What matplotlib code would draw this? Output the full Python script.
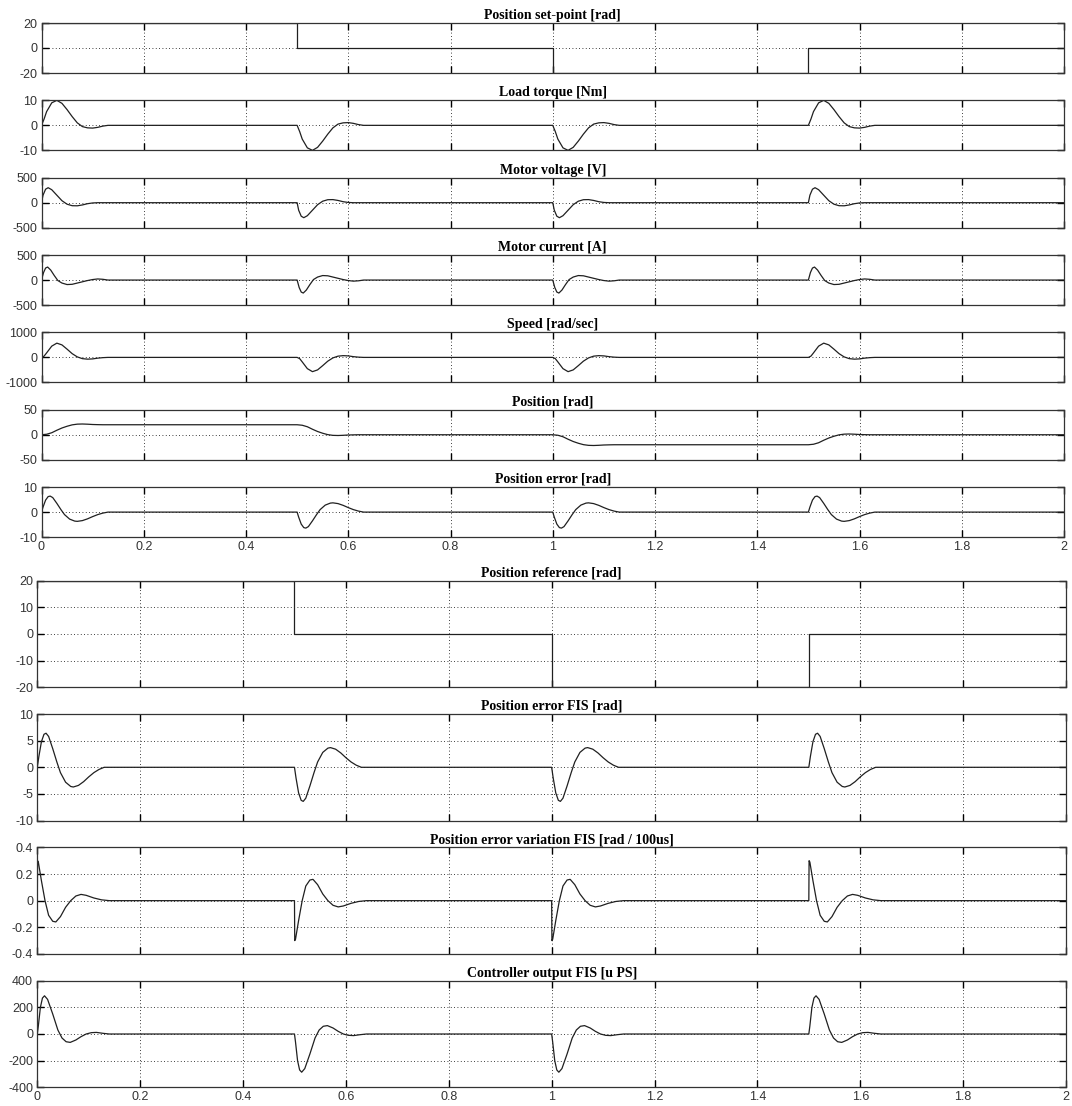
import numpy as np
import matplotlib.pyplot as plt
from matplotlib.ticker import FuncFormatter

plt.rcParams['axes.unicode_minus'] = False
plt.rcParams['font.family'] = 'Liberation Sans'

# set-point levels (rad), changing every 0.5 s
step_t = [0.0, 0.5, 1.0, 1.5, 2.0]
step_level = [20, 0, -20, 0, 0]

# step events and the direction of each step
event_t = [0.0, 0.5, 1.0, 1.5]
event_sign = [1, -1, -1, 1]

# response to one step (time after the step, value)
torque_dt = [0, 0.005, 0.01, 0.02, 0.03, 0.04, 0.05, 0.06, 0.07, 0.08, 0.09, 0.10, 0.11, 0.12, 0.13]
torque_val = [0, 2.5, 5.5, 9, 10, 8.8, 6.3, 3.5, 1.0, -0.5, -1.0, -1.1, -0.8, -0.3, 0]

volt_dt = [0, 0.003, 0.008, 0.013, 0.02, 0.03, 0.04, 0.05, 0.06, 0.07, 0.08, 0.09, 0.10, 0.11]
volt_val = [0, 150, 270, 300, 260, 150, 40, -30, -60, -62, -45, -20, -5, 0]

curr_dt = [0, 0.004, 0.008, 0.012, 0.018, 0.025, 0.032, 0.04, 0.05, 0.06, 0.07, 0.08, 0.09, 0.10, 0.11, 0.12, 0.13]
curr_val = [0, 150, 240, 260, 200, 90, -10, -60, -90, -85, -60, -35, -10, 10, 22, 15, 0]

speed_dt = [0, 0.005, 0.01, 0.02, 0.03, 0.04, 0.05, 0.06, 0.07, 0.08, 0.09, 0.10, 0.11, 0.12, 0.13]
speed_val = [0, 50, 180, 450, 570, 500, 330, 150, 20, -50, -70, -60, -30, -10, 0]

pos_dt = [0, 0.01, 0.02, 0.03, 0.04, 0.05, 0.06, 0.07, 0.08, 0.09, 0.10, 0.11, 0.12]
pos_val = [0, 1, 4, 9, 13.5, 17, 19.8, 21.2, 21.5, 21.1, 20.5, 20.2, 20]

err_dt = [0, 0.003, 0.008, 0.013, 0.017, 0.022, 0.03, 0.038, 0.045, 0.055, 0.065, 0.07, 0.08, 0.09, 0.10, 0.11, 0.12, 0.13]
err_val = [0, 2, 4.8, 6.2, 6.4, 5.8, 3.5, 1, -1, -2.8, -3.6, -3.7, -3.4, -2.7, -1.8, -1.0, -0.4, 0]

derr_dt = [0, 0.0005, 0.002, 0.008, 0.015, 0.022, 0.03, 0.036, 0.045, 0.055, 0.065, 0.075, 0.085, 0.095, 0.11, 0.125, 0.14]
derr_val = [0, 0.3, 0.29, 0.15, 0.0, -0.11, -0.155, -0.16, -0.12, -0.05, 0.0, 0.035, 0.047, 0.04, 0.02, 0.006, 0]

ctrl_dt = [0, 0.002, 0.006, 0.01, 0.014, 0.02, 0.03, 0.04, 0.048, 0.056, 0.064, 0.075, 0.085, 0.095, 0.105, 0.115, 0.128, 0.14]
ctrl_val = [0, 60, 200, 270, 287, 260, 150, 30, -30, -58, -63, -45, -20, 0, 10, 12, 5, 0]


def pulse_series(dt, val):
    t, y = [], []
    for e, s in zip(event_t, event_sign):
        t += [e + d for d in dt]
        y += [s * v for v in val]
    t.append(2.0)
    y.append(0.0)
    return np.array(t), np.array(y)


def position_series():
    t, y = [], []
    level = 0
    for e, s in zip(event_t, event_sign):
        t += [e + d for d in pos_dt]
        y += [level + s * v for v in pos_val]
        level += s * pos_val[-1]
    t.append(2.0)
    y.append(level)
    return np.array(t), np.array(y)


W, H = 1072, 1106
fig = plt.figure(figsize=(W / 100, H / 100), dpi=100)

fmt = FuncFormatter(lambda v, p: '%g' % round(v, 6))
xticks = np.arange(0, 2.01, 0.2)


def make_axes(left, right, top, height, title, yticks, last):
    ax = fig.add_axes([left / W, 1 - (top + height) / H, (right - left) / W, height / H])
    ax.set_xlim(0, 2)
    ax.set_ylim(yticks[0], yticks[-1])
    ax.set_xticks(xticks)
    ax.set_yticks(yticks)
    ax.xaxis.set_major_formatter(fmt)
    ax.yaxis.set_major_formatter(fmt)
    if not last:
        ax.tick_params(labelbottom=False)
    ax.tick_params(direction='in', top=True, right=True, length=5, width=1.0,
                   labelsize=9, labelcolor='#333333', pad=3)
    ax.grid(True, color='k', linestyle=(0, (1, 3)), linewidth=0.6)
    for sp in ax.spines.values():
        sp.set_linewidth(0.9)
        sp.set_color('#333333')
    ax.set_title(title, fontsize=10, fontweight='bold', family='Liberation Serif', pad=3)
    return ax


line_kw = dict(color='#202020', linewidth=0.9)

# upper group
top_titles = ['Position set-point [rad]', 'Load torque [Nm]', 'Motor voltage [V]',
              'Motor current [A]', 'Speed [rad/sec]', 'Position [rad]', 'Position error [rad]']
top_yticks = [[-20, 0, 20], [-10, 0, 10], [-500, 0, 500], [-500, 0, 500],
              [-1000, 0, 1000], [-50, 0, 50], [-10, 0, 10]]
top_series = [None,
              pulse_series(torque_dt, torque_val),
              pulse_series(volt_dt, volt_val),
              pulse_series(curr_dt, curr_val),
              pulse_series(speed_dt, speed_val),
              position_series(),
              pulse_series(err_dt, err_val)]

for i in range(7):
    ax = make_axes(41.5, 1064, 23 + i * 77.35, 50, top_titles[i], top_yticks[i], i == 6)
    if i == 0:
        ax.step(step_t, step_level, where='post', **line_kw)
    else:
        t, y = top_series[i]
        ax.plot(t, y, **line_kw)

# lower group
bot_titles = ['Position reference [rad]', 'Position error FIS [rad]',
              'Position error variation FIS [rad / 100us]', 'Controller output FIS [u PS]']
bot_yticks = [[-20, -10, 0, 10, 20], [-10, -5, 0, 5, 10], [-0.4, -0.2, 0, 0.2, 0.4],
              [-400, -200, 0, 200, 400]]
bot_series = [None,
              pulse_series(err_dt, err_val),
              pulse_series(derr_dt, derr_val),
              pulse_series(ctrl_dt, ctrl_val)]

for i in range(4):
    ax = make_axes(37.3, 1066, 580.7 + i * 133.35, 106.5, bot_titles[i], bot_yticks[i], i == 3)
    if i == 0:
        ax.step(step_t, step_level, where='post', **line_kw)
    else:
        t, y = bot_series[i]
        ax.plot(t, y, **line_kw)

fig.savefig('out.png', dpi=100)
